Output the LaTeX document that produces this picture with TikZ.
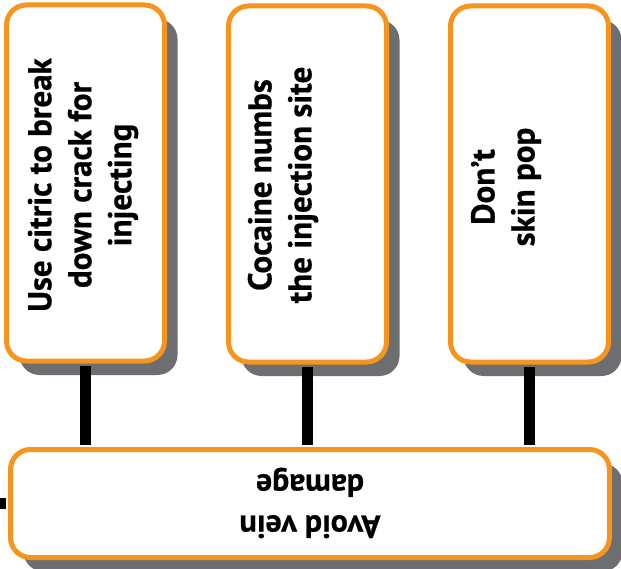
\documentclass[tikz,border=0pt]{standalone}
\usepackage{fontspec}
\setmainfont{PT Sans}[BoldFeatures={FakeBold=0.6}]
\usetikzlibrary{shadows}
\definecolor{boxorange}{HTML}{F7941D}
\definecolor{shadowgrey}{HTML}{6D6E71}
\begin{document}
\begin{tikzpicture}[x=1pt,y=-1pt,
  card/.style={draw=boxorange, line width=5pt, fill=white, rounded corners=20pt,
    drop shadow={shadow xshift=13pt, shadow yshift=-14pt, fill=shadowgrey, opacity=1}},
  tallcard/.style={card, minimum width=158pt, minimum height=356pt, inner sep=0pt},
  cardtext/.style={font=\bfseries\fontsize{33}{40}\selectfont, align=center, text=black, inner sep=0pt},
  link/.style={line width=11pt, draw=black, shorten <=2.5pt, shorten >=2.5pt}]
\useasboundingbox (0,0) rectangle (621,569);

% three tall cards
\node[tallcard] (c1) at (85.5,183) {};
\node[tallcard] (c2) at (307.5,184) {};
\node[tallcard] (c3) at (529.5,184) {};
% wide card at the bottom
\node[card, minimum width=599pt, minimum height=108pt, inner sep=0pt] (base) at (310,503.5) {};

% connectors
\draw[link] (c1.south) -- (c1.south |- base.north);
\draw[link] (c2.south) -- (c2.south |- base.north);
\draw[link] (c3.south) -- (c3.south |- base.north);
\coordinate (stub) at (-6,503.5);
\draw[link, shorten <=0pt] (stub) -- (base.west);

% card texts
\node[cardtext, rotate=90] (t1) at (83,185) {Use citric to break\\down crack for\\injecting};
\node[cardtext, rotate=90] (t2) at (283,185) {Cocaine numbs\\the injection site};
\node[cardtext, rotate=90] (t3) at (506,187) {Don’t\\skin pop};
\node[cardtext, rotate=180, font=\bfseries\fontsize{32}{41}\selectfont] (tb) at (310,503) {Avoid vein\\damage};
\end{tikzpicture}
\end{document}
